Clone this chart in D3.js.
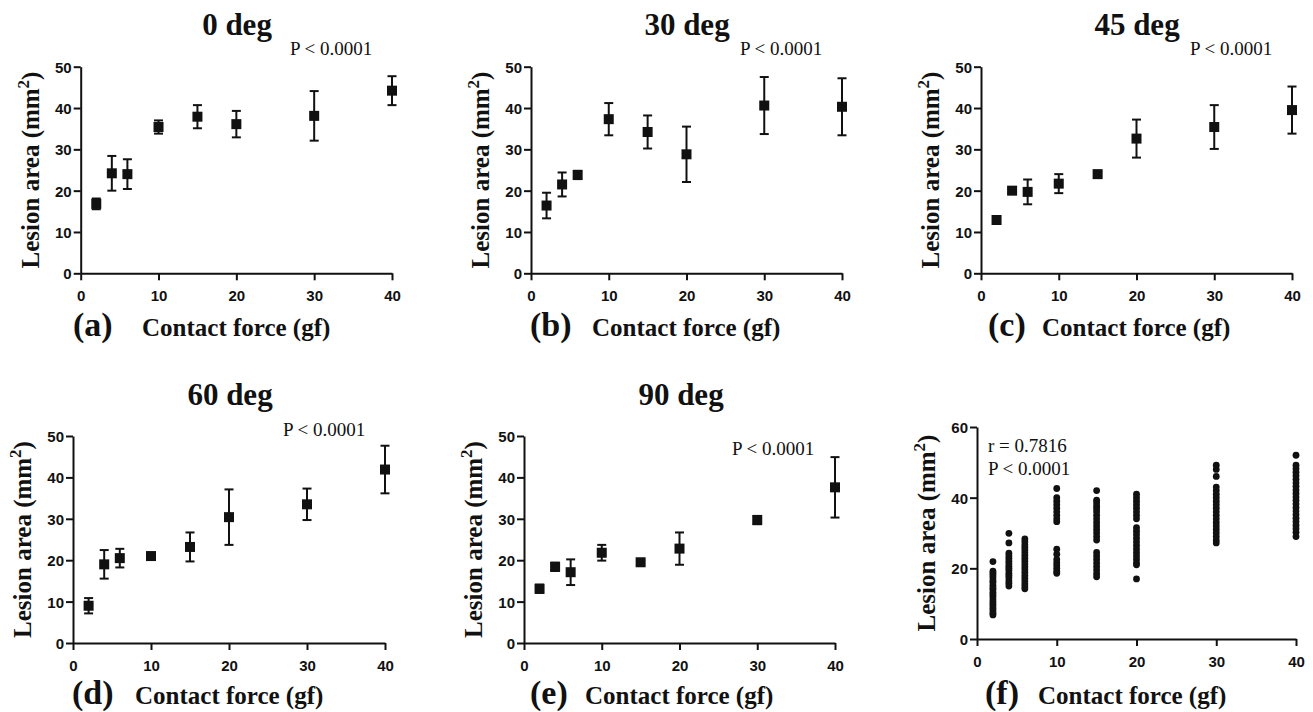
<!DOCTYPE html>
<html>
<head>
<meta charset="utf-8">
<script src="https://cdn.jsdelivr.net/npm/d3@7"></script>
<style>
  html, body { margin: 0; padding: 0; background: #fff; }
  svg { display: block; }
  .tick text { font-family: "Liberation Sans", Arial, sans-serif; font-weight: bold; font-size: 15px; fill: #111; }
  .tick line, .domain { stroke: #111; stroke-width: 2px; }
  .serif { font-family: "Liberation Serif", "Times New Roman", serif; fill: #111; }
</style>
</head>
<body>
<script>
// ---------------- DATA ----------------
const forces = [2, 4, 6, 10, 15, 20, 30, 40];
const xTicks = [0, 10, 20, 30, 40];
const yTicks50 = [0, 10, 20, 30, 40, 50];
const yTicks60 = [0, 20, 40, 60];

const mean0  = [16.8, 24.2, 24.0, 35.4, 37.9, 36.1, 38.1, 44.2];
const sd0    = [1.3, 4.2, 3.6, 1.6, 2.8, 3.2, 6.0, 3.5];
const mean30 = [16.4, 21.5, 23.8, 37.3, 34.2, 28.8, 40.6, 40.3];
const sd30   = [3.1, 2.9, 1.0, 3.9, 4.0, 6.7, 6.9, 6.9];
const mean45 = [12.9, 20.0, 19.7, 21.7, 24.0, 32.6, 35.4, 39.5];
const sd45   = [0.5, 0.5, 3.0, 2.3, 0.5, 4.6, 5.3, 5.7];
const mean60 = [9.0, 19.0, 20.5, 21.0, 23.2, 30.4, 33.5, 41.9];
const sd60   = [1.85, 3.45, 2.25, 0.5, 3.5, 6.7, 3.8, 5.75];
const mean90 = [13.1, 18.4, 17.1, 21.8, 19.5, 22.8, 29.7, 37.6];
const sd90   = [1.0, 1.0, 3.1, 1.9, 0.5, 3.9, 1.0, 7.3];

// individual measurements (panel f), one array per contact force
const pts2  = [21.9, 19.2, 18.6, 18.0, 17.3, 16.5, 16.0, 15.2, 14.5, 14.0, 13.2, 12.6, 12.0, 11.3, 10.6, 10.0, 9.4, 8.7, 8.0, 7.3, 6.8];
const pts4  = [29.9, 27.2, 24.3, 23.5, 22.8, 22.0, 21.3, 20.6, 20.0, 19.4, 18.6, 18.0, 17.3, 16.5, 15.8, 15.0];
const pts6  = [28.3, 27.5, 26.7, 26.0, 25.2, 24.4, 23.6, 22.8, 22.0, 21.2, 20.4, 19.6, 18.8, 18.0, 17.2, 16.4, 15.6, 14.8, 14.2];
const pts10 = [42.6, 40.0, 39.0, 38.0, 37.0, 36.0, 35.0, 34.0, 33.2, 25.4, 24.0, 22.5, 21.6, 20.8, 20.0, 19.2, 18.6];
const pts15 = [42.0, 39.3, 38.5, 37.6, 36.8, 36.0, 35.0, 34.0, 33.0, 32.0, 31.0, 30.0, 29.0, 28.0, 24.5, 23.5, 22.5, 21.5, 20.5, 19.5, 18.5, 17.6];
const pts20 = [41.0, 40.0, 39.0, 38.0, 37.0, 36.0, 35.0, 34.0, 31.5, 30.5, 29.5, 28.5, 27.5, 26.5, 25.5, 24.5, 23.5, 22.5, 21.5, 21.0, 17.0];
const pts30 = [49.2, 48.0, 46.0, 43.0, 42.0, 41.0, 40.0, 39.0, 38.0, 37.0, 36.0, 35.0, 34.0, 33.0, 32.0, 31.0, 30.0, 29.0, 28.0, 27.2];
const pts40 = [52.0, 49.2, 48.2, 47.2, 46.2, 45.2, 44.2, 43.2, 42.2, 41.2, 40.2, 39.2, 38.2, 37.2, 36.2, 35.2, 34.2, 33.2, 32.2, 31.2, 30.2, 29.0];
const allPts = [pts2, pts4, pts6, pts10, pts15, pts20, pts30, pts40];

const titles  = ["0 deg", "30 deg", "45 deg", "60 deg", "90 deg", ""];
const letters = ["(a)", "(b)", "(c)", "(d)", "(e)", "(f)"];
const pLabel = "P < 0.0001";
const rLabel = "r = 0.7816";
const xLabel = "Contact force (gf)";

// ---------------- LAYOUT ----------------
const W = 1313, H = 712;
const layout = [
  { x0: 80.7, x1: 392, yT: 66.7, yB: 273.3, ymax: 50, tX: 237, tY: 35, pX: 290, pY: 55, lX: 73, cX: 142, bY: 336 },
  { x0: 531, x1: 842, yT: 66.7, yB: 273.3, ymax: 50, tX: 687, tY: 35, pX: 740, pY: 55, lX: 530, cX: 592, bY: 336 },
  { x0: 981, x1: 1292, yT: 66.7, yB: 273.3, ymax: 50, tX: 1137, tY: 35, pX: 1190, pY: 55, lX: 988, cX: 1042, bY: 336 },
  { x0: 73, x1: 385, yT: 436, yB: 643, ymax: 50, tX: 230, tY: 405, pX: 283, pY: 436, lX: 72, cX: 135, bY: 704 },
  { x0: 524, x1: 835, yT: 436, yB: 643, ymax: 50, tX: 681, tY: 405, pX: 732, pY: 455, lX: 530, cX: 585, bY: 704 },
  { x0: 977, x1: 1296, yT: 427, yB: 639, ymax: 60, tX: 0, tY: 0, pX: 988, pY: 475, rY: 452, lX: 985, cX: 1038, bY: 704 }
];
const means = [mean0, mean30, mean45, mean60, mean90];
const sds = [sd0, sd30, sd45, sd60, sd90];

const svg = d3.select("body").append("svg").attr("width", W).attr("height", H);
svg.append("rect").attr("width", W).attr("height", H).attr("fill", "#fff");

layout.forEach((L, i) => {
  const g = svg.append("g");
  const x = d3.scaleLinear().domain([0, 40]).range([L.x0, L.x1]);
  const y = d3.scaleLinear().domain([0, L.ymax]).range([L.yB, L.yT]);

  g.append("g").attr("transform", `translate(0,${L.yB})`)
    .call(d3.axisBottom(x).tickValues(xTicks).tickSize(7).tickSizeOuter(0).tickPadding(10));
  g.append("g").attr("transform", `translate(${L.x0},0)`)
    .call(d3.axisLeft(y).tickValues(i === 5 ? yTicks60 : yTicks50).tickSize(7).tickSizeOuter(0).tickPadding(2))
    .selectAll(".tick text").attr("dy", "0.36em");

  // y label
  const yl = g.append("text").attr("class", "serif")
    .attr("transform", `translate(${L.x0 - 42},${(L.yT + L.yB) / 2}) rotate(-90)`)
    .attr("text-anchor", "middle").attr("font-weight", "bold").attr("font-size", 25);
  yl.append("tspan").text("Lesion area (mm");
  yl.append("tspan").attr("dy", -10).attr("font-size", 17).text("2");
  yl.append("tspan").attr("dy", 10).text(")");

  // x label + panel letter
  g.append("text").attr("class", "serif").attr("x", L.lX).attr("y", L.bY)
    .attr("font-weight", "bold").attr("font-size", 34).text(letters[i]);
  g.append("text").attr("class", "serif").attr("x", L.cX).attr("y", L.bY)
    .attr("font-weight", "bold").attr("font-size", 25).text(xLabel);

  if (titles[i]) {
    g.append("text").attr("class", "serif").attr("x", L.tX).attr("y", L.tY)
      .attr("text-anchor", "middle").attr("font-weight", "bold").attr("font-size", 31).text(titles[i]);
  }
  g.append("text").attr("class", "serif").attr("x", L.pX).attr("y", L.pY)
    .attr("font-size", 19).text(pLabel);
  if (i === 5) {
    g.append("text").attr("class", "serif").attr("x", L.pX).attr("y", L.rY)
      .attr("font-size", 19).text(rLabel);
  }

  if (i < 5) {
    const m = means[i], s = sds[i];
    const data = forces.map((f, k) => ({ f, m: m[k], s: s[k] }));
    const eb = g.append("g").attr("stroke", "#111").attr("stroke-width", 2);
    data.forEach(d => {
      const cx = x(d.f), yt = y(d.m + d.s), yb = y(d.m - d.s);
      eb.append("line").attr("x1", cx).attr("x2", cx).attr("y1", yt).attr("y2", yb);
      eb.append("line").attr("x1", cx - 4.5).attr("x2", cx + 4.5).attr("y1", yt).attr("y2", yt);
      eb.append("line").attr("x1", cx - 4.5).attr("x2", cx + 4.5).attr("y1", yb).attr("y2", yb);
    });
    g.append("g").selectAll("rect").data(data).join("rect")
      .attr("x", d => x(d.f) - 5).attr("y", d => y(d.m) - 5)
      .attr("width", 10).attr("height", 10).attr("fill", "#111");
  } else {
    const flat = [];
    forces.forEach((f, k) => allPts[k].forEach(v => flat.push({ f, v })));
    g.append("g").selectAll("circle").data(flat).join("circle")
      .attr("cx", d => x(d.f)).attr("cy", d => y(d.v)).attr("r", 3.4).attr("fill", "#111");
  }
});
</script>
</body>
</html>
